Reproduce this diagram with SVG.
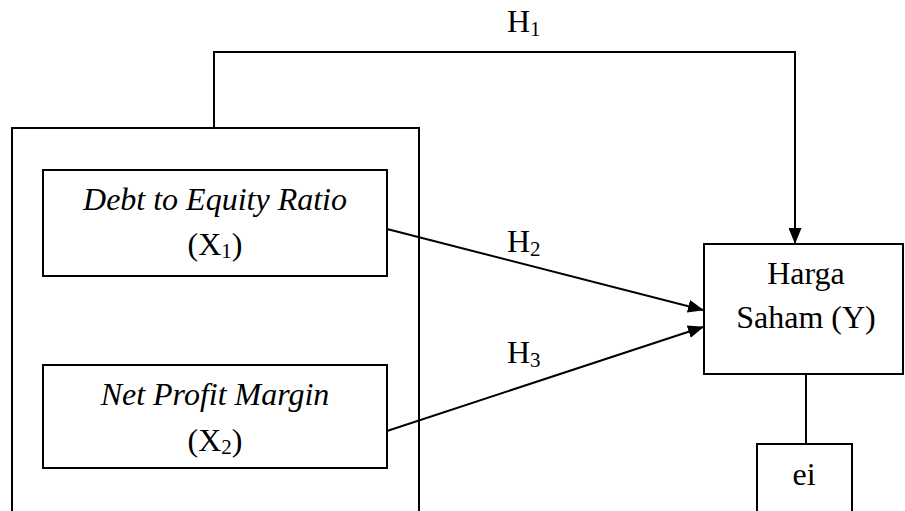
<svg xmlns="http://www.w3.org/2000/svg" width="905" height="511" viewBox="0 0 905 511">
<style>
.box{fill:#fff;stroke:#000;stroke-width:2}
.ln{fill:none;stroke:#000;stroke-width:2}
text{font-family:"Liberation Serif","Times New Roman",serif;font-size:32px;fill:#000}
.it{font-style:italic}
.sub{font-size:21px}
</style>
<defs>
<marker id="ah" markerWidth="16" markerHeight="13" refX="15" refY="6.5" orient="auto" markerUnits="userSpaceOnUse">
<path d="M0,0 L16,6.5 L0,13 Z" fill="#000"/>
</marker>
</defs>
<rect width="905" height="511" fill="#fff"/>
<g id="outer"><rect class="box" x="12" y="128" width="407" height="400"/></g>
<g id="der">
<rect class="box" x="43" y="170" width="344" height="106"/>
<text class="it" x="215" y="210" text-anchor="middle">Debt to Equity Ratio</text>
<text x="215" y="255" text-anchor="middle">(X<tspan class="sub" dy="3">1</tspan><tspan dy="-3">)</tspan></text>
</g>
<g id="npm">
<rect class="box" x="43" y="365" width="344" height="103"/>
<text class="it" x="215" y="405" text-anchor="middle">Net Profit Margin</text>
<text x="215" y="451" text-anchor="middle">(X<tspan class="sub" dy="3">2</tspan><tspan dy="-3">)</tspan></text>
</g>
<g id="harga">
<rect class="box" x="704" y="244" width="199" height="130"/>
<text x="806" y="284" text-anchor="middle">Harga</text>
<text x="806" y="328" text-anchor="middle">Saham (Y)</text>
</g>
<g id="ei">
<rect class="box" x="757" y="444" width="95" height="90"/>
<text x="804" y="485" text-anchor="middle">ei</text>
</g>
<g id="connectors">
<path class="ln" d="M214,128 V52 H795 V243" marker-end="url(#ah)"/>
<path class="ln" d="M387,229 L703,310" marker-end="url(#ah)"/>
<path class="ln" d="M387,431 L703,327" marker-end="url(#ah)"/>
<path class="ln" d="M806,374 V444"/>
</g>
<g id="labels">
<text x="507" y="32">H<tspan class="sub" dy="4">1</tspan></text>
<text x="507" y="252">H<tspan class="sub" dy="4">2</tspan></text>
<text x="507" y="363">H<tspan class="sub" dy="4">3</tspan></text>
</g>
</svg>
